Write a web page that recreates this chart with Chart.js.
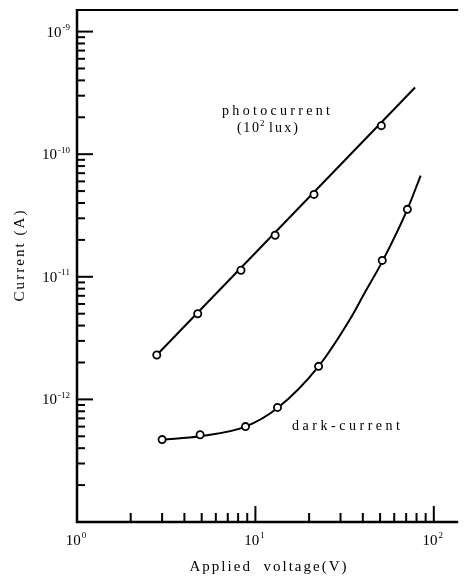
<!DOCTYPE html>
<html>
<head>
<meta charset="utf-8">
<script src="https://cdn.jsdelivr.net/npm/chart.js@4.4.0/dist/chart.umd.min.js"></script>
<style>
  html, body { margin: 0; padding: 0; background: #fff; }
  #wrap { width: 464px; height: 578px; }
</style>
</head>
<body>
<div id="wrap"><canvas id="ivchart"></canvas></div>
<script>
// measured points: applied voltage (V) against current (A)
var photoVolts = [2.8, 4.75, 8.3, 12.9, 21.3, 50.8];
var photoAmps = [2.3e-12, 5.0e-12, 1.13e-11, 2.18e-11, 4.7e-11, 1.71e-10];
var darkVolts = [3.0, 4.9, 8.8, 13.3, 22.6, 51.4, 71.1];
var darkAmps = [4.7e-13, 5.15e-13, 6.0e-13, 8.6e-13, 1.86e-12, 1.36e-11, 3.55e-11];

// the drawn curves through those points
var photoFitVolts = [2.8, 78.5];
var photoFitAmps = [2.3e-12, 3.5e-10];
var darkFitVolts = [3.0, 4.9, 8.8, 13.3, 22.6, 33.9, 41, 51.4, 71.1, 84.4];
var darkFitAmps = [4.7e-13, 5.0e-13, 6.0e-13, 8.5e-13, 1.86e-12, 4.5e-12, 7.4e-12, 1.33e-11, 3.55e-11, 6.7e-11];

// decade ticks and their exponents
var xDecades = [1, 10, 100];
var xExps = ['0', '1', '2'];
var yDecades = [1e-13, 1e-12, 1e-11, 1e-10, 1e-9];
var yExps = ['', '-12', '-11', '-10', '-9'];

var SERIF = '"Liberation Serif", "DejaVu Serif", serif';

function pairs(xs, ys) {
  var out = [];
  for (var i = 0; i < xs.length; i++) out.push({ x: xs[i], y: ys[i] });
  return out;
}

// text stretched over a given width by letter spacing (the figure is typeset loose)
function spread(ctx, text, x, y, width, align) {
  ctx.letterSpacing = '0px';
  var natural = ctx.measureText(text).width;
  var sp = text.length > 1 ? (width - natural) / (text.length - 1) : 0;
  var sx = align === 'center' ? x - width / 2 : (align === 'right' ? x - width : x);
  ctx.letterSpacing = sp + 'px';
  ctx.textAlign = 'left';
  ctx.fillText(text, sx, y);
  ctx.letterSpacing = '0px';
}

// power of ten: "10" plus a small raised exponent
function powerLabel(ctx, exp, x, y, align) {
  ctx.font = '15px ' + SERIF;
  var base = ctx.measureText('10').width;
  ctx.font = '9px ' + SERIF;
  var sup = ctx.measureText(exp).width;
  var w = base + 1 + sup;
  var sx = align === 'center' ? x - w / 2 : (align === 'right' ? x - w : x);
  ctx.textAlign = 'left';
  ctx.textBaseline = 'middle';
  ctx.font = '15px ' + SERIF;
  ctx.fillText('10', sx, y);
  ctx.font = '9px ' + SERIF;
  ctx.fillText(exp, sx + base + 1, y - 5);
}

var frame = {
  id: 'frame',
  afterDraw: function (chart) {
    var ctx = chart.ctx, a = chart.chartArea;
    var xs = chart.scales.x, ys = chart.scales.y;
    ctx.save();
    ctx.strokeStyle = '#000';
    ctx.fillStyle = '#000';

    // left and bottom axes, thin line across the top
    ctx.lineWidth = 2.5;
    ctx.beginPath();
    ctx.moveTo(a.left, a.top - 1);
    ctx.lineTo(a.left, a.bottom);
    ctx.lineTo(a.right, a.bottom);
    ctx.stroke();
    ctx.lineWidth = 2;
    ctx.beginPath();
    ctx.moveTo(a.left, a.top);
    ctx.lineTo(a.right, a.top);
    ctx.stroke();

    // inward ticks, long at decades
    ctx.lineWidth = 2;
    var i, k, v, p, len;
    for (i = 0; i < xDecades.length; i++) {
      for (k = 1; k <= 9; k++) {
        v = xDecades[i] * k;
        if (v <= xs.min || v > xs.max) continue;
        p = xs.getPixelForValue(v);
        len = k === 1 ? 16 : 9;
        ctx.beginPath();
        ctx.moveTo(p, a.bottom);
        ctx.lineTo(p, a.bottom - len);
        ctx.stroke();
      }
    }
    for (i = 0; i < yDecades.length; i++) {
      for (k = 1; k <= 9; k++) {
        v = yDecades[i] * k;
        if (v <= ys.min || v > ys.max) continue;
        p = ys.getPixelForValue(v);
        len = k === 1 ? 16 : 8;
        ctx.beginPath();
        ctx.moveTo(a.left, p);
        ctx.lineTo(a.left + len, p);
        ctx.stroke();
      }
    }

    // tick labels
    for (i = 0; i < xDecades.length; i++) {
      powerLabel(ctx, xExps[i], xs.getPixelForValue(xDecades[i]) - 1, a.bottom + 19, 'center');
    }
    for (i = 0; i < yDecades.length; i++) {
      if (!yExps[i]) continue;
      powerLabel(ctx, yExps[i], a.left - 7, ys.getPixelForValue(yDecades[i]) + 1, 'right');
    }

    // axis titles
    ctx.textBaseline = 'middle';
    ctx.font = '15px ' + SERIF;
    spread(ctx, 'Applied  voltage(V)', 268, 567, 157, 'center');
    ctx.save();
    ctx.translate(20, 256);
    ctx.rotate(-Math.PI / 2);
    spread(ctx, 'Current (A)', 0, 0, 91, 'center');
    ctx.restore();

    // curve labels
    ctx.font = '14px ' + SERIF;
    spread(ctx, 'photocurrent', 222, 111, 108, 'left');
    spread(ctx, '(10', 237, 128, 22, 'left');
    ctx.font = '9px ' + SERIF;
    ctx.fillText('2', 260, 124);
    ctx.font = '14px ' + SERIF;
    spread(ctx, 'lux)', 269, 128, 29, 'left');
    spread(ctx, 'dark-current', 292, 426, 108, 'left');

    ctx.restore();
  }
};

var line = function (data, mode) {
  return {
    type: 'line',
    data: data,
    borderColor: '#000',
    borderWidth: 2,
    pointRadius: 0,
    fill: false,
    cubicInterpolationMode: mode,
    order: 2
  };
};
var marks = function (data) {
  return {
    type: 'scatter',
    data: data,
    showLine: false,
    pointRadius: 3.6,
    pointBorderWidth: 1.8,
    pointBackgroundColor: '#fff',
    pointBorderColor: '#000',
    order: 1
  };
};

var ctx = document.getElementById('ivchart');
var ivchart = new Chart(ctx, {
  data: {
    datasets: [
      line(pairs(photoFitVolts, photoFitAmps), 'default'),
      line(pairs(darkFitVolts, darkFitAmps), 'monotone'),
      marks(pairs(photoVolts, photoAmps)),
      marks(pairs(darkVolts, darkAmps))
    ]
  },
  options: {
    responsive: true,
    maintainAspectRatio: false,
    animation: false,
    layout: { padding: { left: 77, top: 10, right: 0, bottom: 56 } },
    plugins: {
      legend: { display: false },
      tooltip: { enabled: false }
    },
    scales: {
      x: { type: 'logarithmic', min: 1, max: 137, display: false },
      y: { type: 'logarithmic', min: 1e-13, max: 1.5e-9, display: false }
    }
  },
  plugins: [frame]
});
</script>
</body>
</html>
